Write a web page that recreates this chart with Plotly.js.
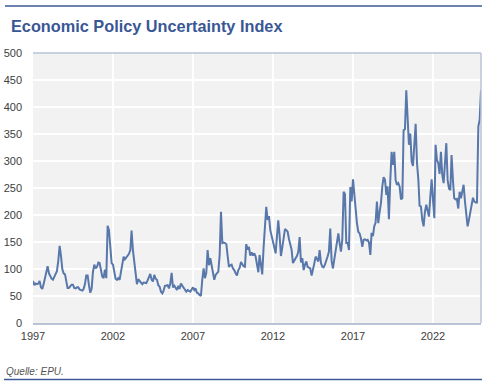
<!DOCTYPE html>
<html>
<head>
<meta charset="utf-8">
<script src="https://cdn.plot.ly/plotly-3.0.1.min.js"></script>
<style>
  html, body { margin: 0; padding: 0; background: #ffffff; }
  #chart { width: 500px; height: 388px; }
</style>
</head>
<body>
<div id="chart"></div>
<script>
// Monthly index values, starting January 1997
const startYear = 1997;
const epu1997to2001 = [
  78, 70, 73, 72, 73, 78, 66, 63, 72, 82, 98, 105,
  92, 86, 82, 80, 85, 88, 96, 115, 143, 125, 100, 92,
  90, 77, 65, 65, 69, 71, 71, 65, 64, 66, 66, 62,
  61, 60, 63, 72, 88, 88, 70, 56, 64, 95, 108, 101,
  104, 112, 111, 95, 86, 83, 99, 83, 180, 172, 129, 111
];
const epu2002to2006 = [
  108, 92, 82, 80, 83, 80, 95, 104, 123, 118, 121, 123,
  128, 135, 171, 135, 111, 89, 72, 81, 78, 75, 72, 75,
  75, 74, 79, 85, 91, 80, 77, 89, 82, 80, 70, 67,
  58, 55, 60, 69, 70, 70, 64, 73, 93, 66, 69, 66,
  61, 69, 63, 73, 69, 64, 60, 58, 61, 60, 58, 62
];
const epu2007to2011 = [
  66, 61, 64, 56, 55, 52, 50, 80, 101, 83, 93, 135,
  107, 120, 108, 95, 80, 89, 92, 95, 126, 206, 148, 149,
  148, 146, 125, 104, 107, 108, 101, 98, 92, 88, 98, 102,
  113, 109, 105, 104, 146, 136, 141, 125, 131, 125, 129, 123,
  111, 94, 126, 110, 90, 140, 175, 215, 191, 198, 172, 163
];
const epu2012to2016 = [
  154, 140, 129, 160, 190, 161, 124, 140, 154, 174, 172, 169,
  155, 141, 136, 111, 117, 120, 124, 132, 159, 112, 120, 98,
  108, 114, 104, 103, 101, 88, 97, 110, 123, 118, 114, 135,
  111, 104, 103, 108, 114, 123, 132, 175, 115, 101, 118, 135,
  145, 166, 148, 132, 154, 243, 239, 148, 148, 135, 252, 225
];
const epu2017to2021 = [
  266, 240, 203, 185, 169, 166, 157, 141, 154, 155, 153, 154,
  149, 126, 167, 161, 179, 186, 225, 185, 206, 222, 253, 270,
  265, 237, 253, 192, 262, 317, 293, 317, 265, 256, 259, 253,
  229, 231, 357, 359, 431, 376, 330, 351, 299, 291, 324, 369,
  296, 265, 217, 216, 191, 179, 206, 219, 208, 197, 234, 266
];
const epu2022to2025 = [
  228, 194, 330, 302, 296, 276, 317, 274, 259, 293, 333, 265,
  249, 246, 311, 265, 231, 229, 230, 212, 243, 231, 246, 256,
  225, 197, 179, 191, 206, 216, 232, 225, 223, 223, 364, 376,
  431
];
const tickYears = ['1997', '2002', '2007', '2012', '2017', '2022'];
const titleText = 'Economic Policy Uncertainty Index';
const sourceText = 'Quelle: EPU.';

const values = [].concat(epu1997to2001, epu2002to2006, epu2007to2011,
                         epu2012to2016, epu2017to2021, epu2022to2025);
const dates = values.map((_, i) => {
  const y = startYear + Math.floor(i / 12);
  const m = (i % 12) + 1;
  return y + '-' + String(m).padStart(2, '0') + '-01';
});
const lastDate = dates[dates.length - 1];

const ruleColor = '#3d5a94';
const frameColor = '#b9c3d6';

const trace = {
  x: dates,
  y: values,
  type: 'scatter',
  mode: 'lines',
  line: { color: '#5877aa', width: 2 },
  hoverinfo: 'skip'
};

const layout = {
  width: 500,
  height: 388,
  margin: { l: 33, r: 19, t: 53, b: 65 },
  paper_bgcolor: '#ffffff',
  plot_bgcolor: '#f2f2f2',
  showlegend: false,
  font: { family: 'Liberation Sans, Arial, sans-serif', size: 11, color: '#404040' },
  title: {
    text: '<b>' + titleText + '</b>',
    font: { family: 'Liberation Sans, Arial, sans-serif', size: 16.3, color: '#3a5795' },
    xref: 'container', yref: 'container',
    x: 11 / 500, xanchor: 'left',
    y: 1 - 26 / 388, yanchor: 'middle'
  },
  xaxis: {
    type: 'date',
    range: [dates[0], lastDate],
    tickvals: tickYears.map(y => y + '-01-01'),
    ticktext: tickYears,
    showgrid: true,
    gridcolor: '#ffffff',
    gridwidth: 1.5,
    zeroline: false,
    showline: true,
    linecolor: frameColor,
    linewidth: 1.5,
    ticks: '',
    ticklabelstandoff: 2,
    tickfont: { size: 11, color: '#404040' },
    fixedrange: true
  },
  yaxis: {
    range: [0, 500],
    dtick: 50,
    tick0: 0,
    showgrid: true,
    gridcolor: '#ffffff',
    gridwidth: 1.5,
    zeroline: false,
    showline: false,
    ticks: '',
    ticklabelstandoff: 10,
    tickfont: { size: 11, color: '#404040' },
    fixedrange: true
  },
  shapes: [
    { type: 'line', xref: 'paper', yref: 'paper', x0: 0, x1: 1, y0: 1, y1: 1,
      line: { color: frameColor, width: 1.5 } },
    { type: 'line', xref: 'paper', yref: 'paper', x0: 1, x1: 1, y0: 0, y1: 1,
      line: { color: frameColor, width: 1.5 } },
    { type: 'line', xref: 'paper', yref: 'paper',
      x0: (5 - 33) / 448, x1: (482 - 33) / 448,
      y0: (323 - 6) / 270, y1: (323 - 6) / 270,
      line: { color: ruleColor, width: 1.5 } },
    { type: 'line', xref: 'paper', yref: 'paper',
      x0: (4 - 33) / 448, x1: (482 - 33) / 448,
      y0: (323 - 379.5) / 270, y1: (323 - 379.5) / 270,
      line: { color: ruleColor, width: 1.5 } }
  ],
  annotations: [
    { text: '<i>' + sourceText + '</i>', xref: 'paper', yref: 'paper',
      x: (4 - 33) / 448, xanchor: 'left',
      y: (323 - 371.5) / 270, yanchor: 'middle',
      showarrow: false,
      font: { family: 'Liberation Sans, Arial, sans-serif', size: 10, color: '#555555' } }
  ]
};

Plotly.newPlot('chart', [trace], layout, { displayModeBar: false, staticPlot: true });
</script>
</body>
</html>
